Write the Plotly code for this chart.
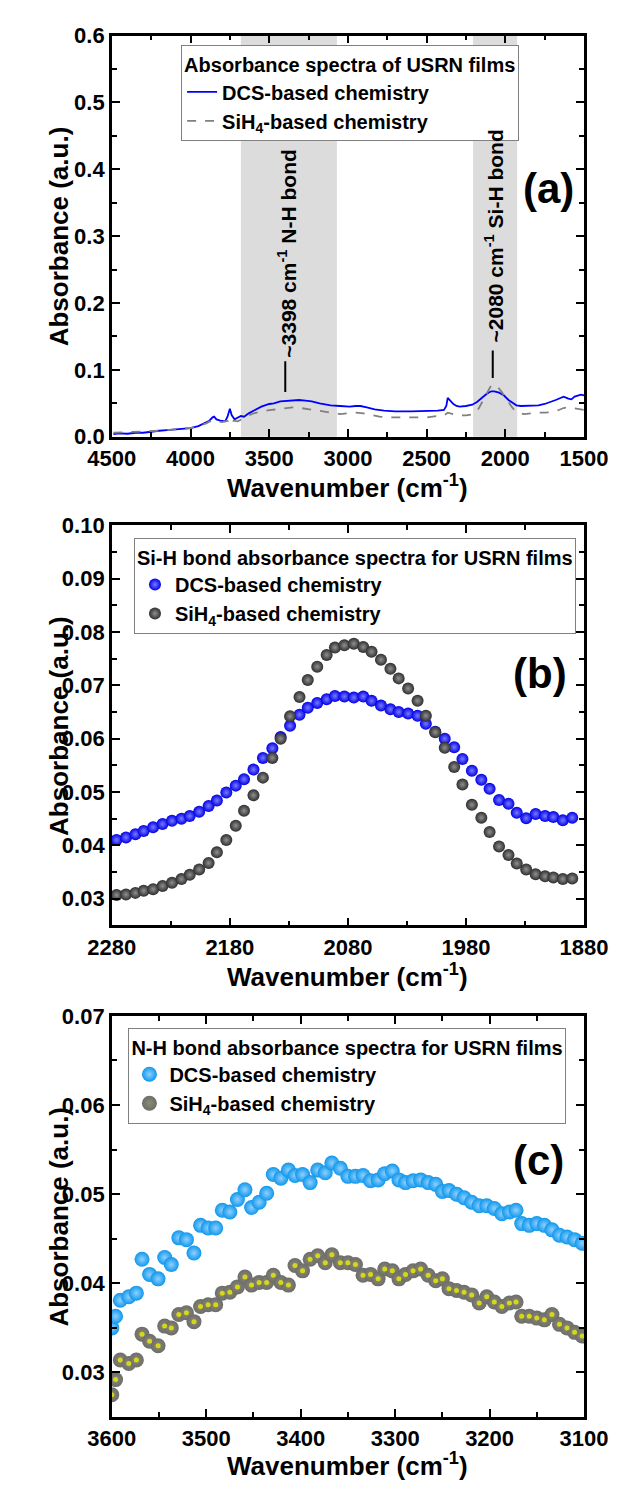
import plotly.graph_objects as go

# ---------------- data ----------------
# Panel (a): full spectra
wn_a_dcs = [4490, 4450, 4400, 4350, 4300, 4250, 4200, 4150, 4100, 4050, 4000, 3950, 3910, 3880,
            3860, 3850, 3835, 3810, 3780, 3765, 3750, 3738, 3720, 3700, 3680, 3660, 3640, 3630,
            3600, 3550, 3500, 3470, 3430, 3390, 3350, 3310, 3270, 3230, 3180, 3110, 3050, 2990,
            2950, 2920, 2880, 2830, 2770, 2700, 2600, 2500, 2430, 2390, 2375, 2366, 2355, 2330,
            2310, 2290, 2250, 2210, 2180, 2150, 2120, 2090, 2070, 2040, 2010, 1980, 1950, 1930,
            1900, 1870, 1830, 1790, 1750, 1710, 1680, 1650, 1630, 1600, 1580, 1560, 1540, 1520, 1500]
abs_a_dcs = [0.004, 0.005, 0.0045, 0.006, 0.006, 0.008, 0.009, 0.010, 0.011, 0.012, 0.013, 0.016, 0.021, 0.024,
             0.029, 0.030, 0.026, 0.024, 0.023, 0.030, 0.042, 0.032, 0.026, 0.028, 0.031, 0.030, 0.034, 0.035,
             0.039, 0.045, 0.049, 0.050, 0.053, 0.054, 0.055, 0.055, 0.054, 0.053, 0.050, 0.047, 0.046, 0.045,
             0.046, 0.046, 0.044, 0.041, 0.039, 0.038, 0.038, 0.038, 0.039, 0.040, 0.046, 0.058, 0.055, 0.049,
             0.046, 0.045, 0.046, 0.048, 0.052, 0.058, 0.064, 0.068, 0.068, 0.066, 0.062, 0.055, 0.050, 0.047,
             0.046, 0.046, 0.046, 0.047, 0.049, 0.052, 0.055, 0.058, 0.060, 0.057, 0.056, 0.060, 0.062, 0.063, 0.062]

wn_a_sih4 = [4490, 4400, 4300, 4200, 4100, 4000, 3950, 3900, 3860, 3840, 3800, 3760, 3745, 3730, 3700,
             3670, 3640, 3600, 3550, 3500, 3450, 3400, 3350, 3300, 3250, 3200, 3150, 3100, 3050, 3000,
             2950, 2900, 2850, 2800, 2750, 2700, 2600, 2500, 2430, 2390, 2366, 2340, 2300, 2250, 2200,
             2170, 2140, 2110, 2090, 2075, 2050, 2020, 1990, 1960, 1940, 1910, 1880, 1850, 1800, 1750,
             1700, 1660, 1630, 1600, 1560, 1530, 1500]
abs_a_sih4 = [0.006, 0.007, 0.007, 0.009, 0.011, 0.013, 0.016, 0.020, 0.025, 0.024, 0.022, 0.024, 0.030, 0.024, 0.023,
              0.027, 0.031, 0.035, 0.038, 0.040, 0.041, 0.043, 0.044, 0.043, 0.041, 0.040, 0.037, 0.035, 0.034, 0.035,
              0.036, 0.035, 0.032, 0.030, 0.029, 0.029, 0.029, 0.029, 0.031, 0.032, 0.036, 0.034, 0.032, 0.032, 0.034,
              0.042, 0.055, 0.070, 0.077, 0.078, 0.075, 0.066, 0.055, 0.045, 0.039, 0.035, 0.034, 0.035, 0.036, 0.036,
              0.037, 0.040, 0.043, 0.044, 0.042, 0.041, 0.040]

# Panel (b): Si-H region
wn_b = [2276, 2268, 2260, 2253, 2245, 2237, 2229, 2221, 2214, 2206, 2198, 2191, 2183, 2175, 2168, 2160,
        2152, 2144, 2137, 2129, 2121, 2114, 2106, 2098, 2091, 2083, 2075, 2067, 2060, 2052, 2044, 2037,
        2029, 2021, 2014, 2006, 1998, 1990, 1983, 1975, 1967, 1960, 1952, 1944, 1937, 1929, 1921, 1913,
        1906, 1898, 1890]
abs_b_dcs = [0.0410, 0.0415, 0.0421, 0.0427, 0.0434, 0.0440, 0.0446, 0.0450, 0.0455, 0.0463, 0.0474, 0.0484,
             0.0499, 0.0512, 0.0524, 0.0542, 0.0564, 0.0582, 0.0603, 0.0624, 0.0645, 0.0658, 0.0667, 0.0674,
             0.0680, 0.0679, 0.0677, 0.0679, 0.0671, 0.0662, 0.0655, 0.0650, 0.0647, 0.0643, 0.0628, 0.0613,
             0.0600, 0.0584, 0.0562, 0.0540, 0.0523, 0.0506, 0.0485, 0.0478, 0.0461, 0.0451, 0.0459, 0.0455,
             0.0453, 0.0447, 0.0452]
abs_b_sih4 = [0.0307, 0.0308, 0.0311, 0.0315, 0.0318, 0.0324, 0.0330, 0.0337, 0.0345, 0.0355, 0.0367, 0.0387,
              0.0410, 0.0437, 0.0465, 0.0494, 0.0527, 0.0564, 0.0600, 0.0642, 0.0678, 0.0710, 0.0735, 0.0757,
              0.0771, 0.0775, 0.0778, 0.0772, 0.0763, 0.0748, 0.0731, 0.0713, 0.0694, 0.0671, 0.0643, 0.0612,
              0.0583, 0.0547, 0.0514, 0.0476, 0.0452, 0.0425, 0.0398, 0.0382, 0.0366, 0.0355, 0.0346, 0.0342,
              0.0340, 0.0337, 0.0338]

# Panel (c): N-H region
wn_c = [3600, 3596, 3591, 3582, 3574, 3568, 3560, 3551, 3544, 3537, 3529, 3521, 3513, 3506, 3498, 3490,
        3483, 3475, 3467, 3459, 3452, 3444, 3436, 3429, 3421, 3413, 3406, 3398, 3390, 3382, 3374, 3367,
        3358, 3350, 3342, 3334, 3326, 3318, 3311, 3303, 3296, 3289, 3281, 3273, 3265, 3257, 3250, 3243,
        3235, 3227, 3219, 3211, 3203, 3195, 3187, 3179, 3172, 3166, 3158, 3150, 3142, 3134, 3126, 3118,
        3110, 3102]
abs_c_dcs = [0.0350, 0.0363, 0.0381, 0.0385, 0.0389, 0.0427, 0.0410, 0.0405, 0.0429, 0.0421, 0.0451, 0.0449,
             0.0434, 0.0465, 0.0462, 0.0462, 0.0482, 0.0480, 0.0494, 0.0505, 0.0485, 0.0491, 0.0501, 0.0522,
             0.0518, 0.0527, 0.0521, 0.0522, 0.0513, 0.0527, 0.0524, 0.0535, 0.0529, 0.0520, 0.0520, 0.0521,
             0.0515, 0.0516, 0.0523, 0.0526, 0.0516, 0.0513, 0.0515, 0.0516, 0.0513, 0.0511, 0.0503, 0.0504,
             0.0500, 0.0496, 0.0491, 0.0487, 0.0487, 0.0484, 0.0478, 0.0480, 0.0482, 0.0467, 0.0465, 0.0467,
             0.0465, 0.0460, 0.0454, 0.0452, 0.0449, 0.0445]
abs_c_sih4 = [0.0275, 0.0292, 0.0314, 0.0310, 0.0314, 0.0343, 0.0335, 0.0330, 0.0352, 0.0350, 0.0365, 0.0367,
              0.0357, 0.0374, 0.0376, 0.0376, 0.0389, 0.0390, 0.0396, 0.0407, 0.0398, 0.0401, 0.0401, 0.0409,
              0.0401, 0.0398, 0.0420, 0.0414, 0.0427, 0.0431, 0.0423, 0.0432, 0.0423, 0.0423, 0.0421, 0.0409,
              0.0410, 0.0405, 0.0416, 0.0414, 0.0405, 0.0410, 0.0414, 0.0416, 0.0409, 0.0403, 0.0405, 0.0394,
              0.0392, 0.0390, 0.0387, 0.0378, 0.0385, 0.0379, 0.0374, 0.0378, 0.0379, 0.0363, 0.0363, 0.0361,
              0.0359, 0.0365, 0.0354, 0.0350, 0.0345, 0.0341]

# labels
series_names = ["DCS-based chemistry", "SiH<sub>4</sub>-based chemistry"]
legend_titles = ["Absorbance spectra of USRN films",
                 "Si-H bond absorbance spectra for USRN films",
                 "N-H bond absorbance spectra for USRN films"]
panel_labels = ["(a)", "(b)", "(c)"]
band_ranges = [(3680, 3070), (2205, 1925)]
band_labels = ["~3398 cm<sup>-1</sup> N-H bond", "~2080 cm<sup>-1</sup> Si-H bond"]
band_centers = [3398, 2080]
x_title = "Wavenumber (cm<sup>-1</sup>)"
y_title = "Absorbance (a.u.)"

# ---------------- layout helpers ----------------
W, H = 633, 1491
FONT = "Liberation Sans, Arial, sans-serif"


def px_x(x):
    return x / W


def px_y(y):
    return 1 - y / H


x_dom = [px_x(95), px_x(606)]
y_doms = [[px_y(432), px_y(24)], [px_y(929), px_y(522)], [px_y(1429), px_y(1021)]]

fig = go.Figure()

# (a) lines
fig.add_trace(go.Scatter(x=wn_a_dcs, y=abs_a_dcs, mode="lines", name=series_names[0],
                         line=dict(color="#0000ff", width=1.8), xaxis="x", yaxis="y", legend="legend"))
fig.add_trace(go.Scatter(x=wn_a_sih4, y=abs_a_sih4, mode="lines", name=series_names[1],
                         line=dict(color="#808080", width=1.8, dash="dash"), xaxis="x", yaxis="y",
                         legend="legend"))

# (b) markers (sphere-like shading via radial gradient)
fig.add_trace(go.Scatter(x=wn_b, y=abs_b_dcs, mode="markers", name=series_names[0],
                         marker=dict(color="#0000e6", size=12,
                                     gradient=dict(type="radial", color="#7a7aff"),
                                     line=dict(width=0)),
                         xaxis="x2", yaxis="y2", legend="legend2"))
fig.add_trace(go.Scatter(x=wn_b, y=abs_b_sih4, mode="markers", name=series_names[1],
                         marker=dict(color="#2e2e2e", size=12,
                                     gradient=dict(type="radial", color="#909090"),
                                     line=dict(width=0)),
                         xaxis="x2", yaxis="y2", legend="legend2"))

# (c) markers
fig.add_trace(go.Scatter(x=wn_c, y=abs_c_dcs, mode="markers", name=series_names[0],
                         marker=dict(color="#0f97ec", size=15,
                                     gradient=dict(type="radial", color="#8fd0ff"),
                                     line=dict(width=0)),
                         xaxis="x3", yaxis="y3", legend="legend3"))
fig.add_trace(go.Scatter(x=wn_c, y=abs_c_sih4, mode="markers", name=series_names[1],
                         marker=dict(color="#6c6c6c", size=15,
                                     gradient=dict(type="radial", color="#8c8c70"),
                                     line=dict(width=0)),
                         xaxis="x3", yaxis="y3", legend="legend3"))
# yellow highlights on the SiH4 spheres
fig.add_trace(go.Scatter(x=wn_c, y=abs_c_sih4, mode="markers", showlegend=False, hoverinfo="skip",
                         marker=dict(color="#d6d61a", size=5, line=dict(width=0)),
                         xaxis="x3", yaxis="y3"))

axis_common = dict(showline=True, linecolor="black", linewidth=2.5, mirror="ticks",
                   ticks="inside", ticklen=8, tickwidth=2, tickcolor="black",
                   showgrid=False, zeroline=False,
                   tickfont=dict(family=FONT, size=22, color="black", weight="bold"))
minor_x = dict(ticks="inside", ticklen=5, tickwidth=2, tickcolor="black", showgrid=False)

title_font = dict(family=FONT, size=26, color="black", weight="bold")

fig.update_layout(
    width=W, height=H,
    margin=dict(l=0, r=0, t=0, b=0),
    paper_bgcolor="white", plot_bgcolor="white",
    font=dict(family=FONT, color="black", size=20),
    xaxis=dict(domain=x_dom, anchor="y", range=[4500, 1500],
               tickvals=[4500, 4000, 3500, 3000, 2500, 2000, 1500],
               minor=dict(dtick=250, **minor_x), **axis_common),
    yaxis=dict(domain=y_doms[0], anchor="x", range=[0, 0.6], dtick=0.1, tickformat=".1f",
               minor=dict(dtick=0.05, **minor_x), **axis_common),
    xaxis2=dict(domain=x_dom, anchor="y2", range=[2280, 1880],
                tickvals=[2280, 2180, 2080, 1980, 1880],
                minor=dict(dtick=50, tick0=1880, **minor_x), **axis_common),
    yaxis2=dict(domain=y_doms[1], anchor="x2", range=[0.025, 0.10],
                tickvals=[0.03, 0.04, 0.05, 0.06, 0.07, 0.08, 0.09, 0.10], tickformat=".2f",
                minor=dict(dtick=0.005, tick0=0, **minor_x), **axis_common),
    xaxis3=dict(domain=x_dom, anchor="y3", range=[3600, 3100],
                tickvals=[3600, 3500, 3400, 3300, 3200, 3100],
                minor=dict(dtick=50, **minor_x), **axis_common),
    yaxis3=dict(domain=y_doms[2], anchor="x3", range=[0.025, 0.07],
                tickvals=[0.03, 0.04, 0.05, 0.06, 0.07], tickformat=".2f",
                minor=dict(dtick=0.005, tick0=0, **minor_x), **axis_common),
)

legend_common = dict(bgcolor="white", bordercolor="#808080", borderwidth=1,
                     font=dict(family=FONT, size=20, color="black", weight="bold"),
                     xanchor="left", yanchor="top", tracegroupgap=0, itemwidth=30)
legend_title_font = dict(family=FONT, size=20, color="black", weight="bold")
legend_pos = [(170, 34), (119, 535), (113, 1033)]
for i, key in enumerate(["legend", "legend2", "legend3"]):
    lx, ly = legend_pos[i]
    fig.update_layout({key: dict(x=px_x(lx), y=px_y(ly),
                                 title=dict(text=legend_titles[i], font=legend_title_font),
                                 **legend_common)})

# shaded bands and marker lines on (a)
for (x0, x1) in band_ranges:
    fig.add_shape(type="rect", xref="x", yref="y domain", x0=x0, x1=x1, y0=0, y1=1,
                  fillcolor="#dcdcdc", line=dict(width=0), layer="below")
line_ranges = [(0.067, 0.113), (0.088, 0.129)]
text_y = [0.275, 0.30]
text_x = [3388, 2070]
for i in range(2):
    fig.add_shape(type="line", xref="x", yref="y", x0=band_centers[i], x1=band_centers[i],
                  y0=line_ranges[i][0], y1=line_ranges[i][1], line=dict(color="black", width=2))
    fig.add_annotation(x=text_x[i], y=text_y[i], xref="x", yref="y", text=band_labels[i],
                       textangle=-90, showarrow=False, xanchor="center", yanchor="middle",
                       font=dict(family=FONT, size=21, color="black", weight="bold"))

# axis titles (as annotations for exact placement)
x_title_y = [483, 980, 1477]
y_title_y = [228, 726, 1225]
for i in range(3):
    fig.add_annotation(x=px_x(350), y=px_y(x_title_y[i]), xref="paper", yref="paper",
                       text=x_title, showarrow=False, xanchor="center", yanchor="middle",
                       font=title_font)
    fig.add_annotation(x=px_x(38), y=px_y(y_title_y[i]), xref="paper", yref="paper",
                       text=y_title, textangle=-90, showarrow=False, xanchor="center",
                       yanchor="middle", font=title_font)

# panel labels
label_pos = [(568, 180), (558, 673), (557, 1168)]
for i in range(3):
    fig.add_annotation(x=px_x(label_pos[i][0]), y=px_y(label_pos[i][1]), xref="paper", yref="paper",
                       text=panel_labels[i], showarrow=False, xanchor="center", yanchor="middle",
                       font=dict(family=FONT, size=42, color="black", weight="bold"))

fig.write_html("out.html")
